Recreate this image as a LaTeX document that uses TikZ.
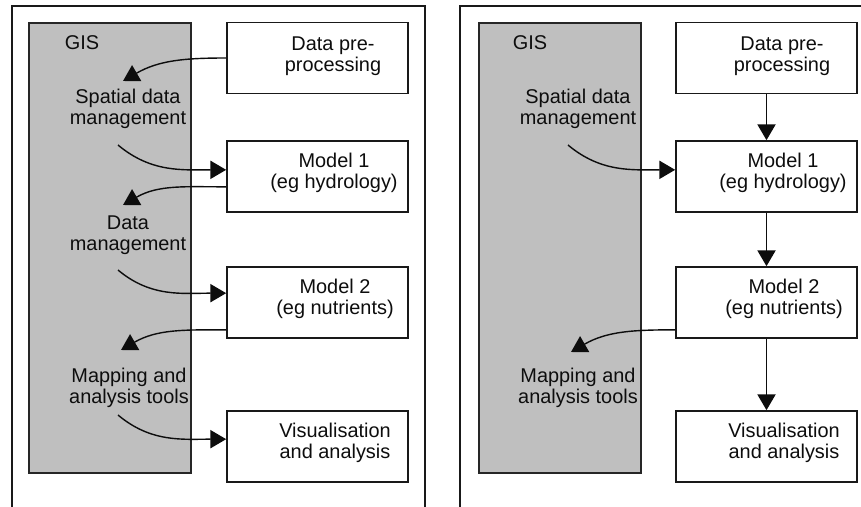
\documentclass[tikz,border=0pt]{standalone}
\usepackage{fontspec}
\setmainfont{Liberation Sans}
\usetikzlibrary{arrows.meta}

\tikzset{
	box/.style={draw=black!90, line width=1.4pt, fill=white, minimum width=5.43cm, minimum height=2.13cm, inner sep=0pt},
	gisarea/.style={draw=black!85, line width=1.1pt, fill=black!25},
	txt/.style={align=center, text=black!95, font=\fontsize{17}{18}\selectfont, inner sep=0pt},
	flow/.style={line width=1.2pt, draw=black!95, -{Triangle[length=13.5pt,width=15.5pt]}},
	frame/.style={line width=1.1pt, draw=black!90}
}

\begin{document}
\begin{tikzpicture}[x=0.03cm, y=-0.03cm]
			%%%%% START %%%%%
			\useasboundingbox (0, 0) rectangle (861, 507);
			\clip (0, 0) rectangle (861, 507);
			
			%% left panel
			\draw[frame] (12, 510) -- (12, 6) -- (425, 6) -- (425, 510);
			\draw[gisarea] (29, 23) rectangle (191, 473);
			\node[txt] (gisA) at (82, 43) {GIS};
			
			\node[box] (dpA) at (317.5, 58) {};
			\node[box] (mA) at (317.5, 176.5) {};
			\node[box] (nA) at (317.5, 302.5) {};
			\node[box] (visA) at (317.5, 446.5) {};
			\node[txt] (dpAt) at (333, 56) {Data pre-\\processing};
			\node[txt] (mAt) at (334, 173) {Model 1\\(eg hydrology)};
			\node[txt] (nAt) at (335, 299) {Model 2\\(eg nutrients)};
			\node[txt] (visAt) at (335, 443) {Visualisation\\and analysis};
			
			\node[txt] (sdmA) at (128, 109) {Spatial data\\management};
			\node[txt] (dmA) at (128, 235) {Data\\management};
			\node[txt] (matA) at (129, 388) {Mapping and\\analysis tools};
			
			\coordinate (a1) at (123, 81);
			\coordinate (a2) at (118, 145);
			\coordinate (a3) at (123, 205);
			\coordinate (a4) at (118, 270);
			\coordinate (a5) at (121, 350);
			\coordinate (a6) at (118, 415);
			
			\draw[flow] (dpA.west) to[out=180, in=30] (a1);
			\draw[flow] (a2) to[out=-40, in=180] ([yshift=0.2cm]mA.west);
			\draw[flow] ([yshift=-0.31cm]mA.west) to[out=180, in=30] (a3);
			\draw[flow] (a4) to[out=-40, in=180] ([yshift=0.28cm]nA.west);
			\draw[flow] ([yshift=-0.82cm]nA.west) to[out=180, in=30] (a5);
			\draw[flow] (a6) to[out=-40, in=180] ([yshift=0.22cm]visA.west);
			
			%% right panel
			\draw[frame] (460, 510) -- (460, 6) -- (870, 6);
			\draw[gisarea] (479, 23) rectangle (641, 473);
			\node[txt] (gisB) at (530, 43) {GIS};
			
			\node[box] (dpB) at (766.5, 58) {};
			\node[box] (mB) at (766.5, 176.5) {};
			\node[box] (nB) at (766.5, 302.5) {};
			\node[box] (visB) at (766.5, 446.5) {};
			\node[txt] (dpBt) at (782, 56) {Data pre-\\processing};
			\node[txt] (mBt) at (783, 173) {Model 1\\(eg hydrology)};
			\node[txt] (nBt) at (784, 299) {Model 2\\(eg nutrients)};
			\node[txt] (visBt) at (784, 443) {Visualisation\\and analysis};
			
			\node[txt] (sdmB) at (578, 109) {Spatial data\\management};
			\node[txt] (matB) at (578, 388) {Mapping and\\analysis tools};
			
			\coordinate (b2) at (568, 145);
			\coordinate (b5) at (571, 352);
			
			\draw[flow] (b2) to[out=-40, in=180] ([yshift=0.2cm]mB.west);
			\draw[flow] ([yshift=-0.82cm]nB.west) to[out=180, in=30] (b5);
			\draw[flow] (dpB) -- (mB);
			\draw[flow] (mB) -- (nB);
			\draw[flow] (nB) -- (visB);
			
			%%%%% END %%%%%
		\end{tikzpicture}
\end{document}
